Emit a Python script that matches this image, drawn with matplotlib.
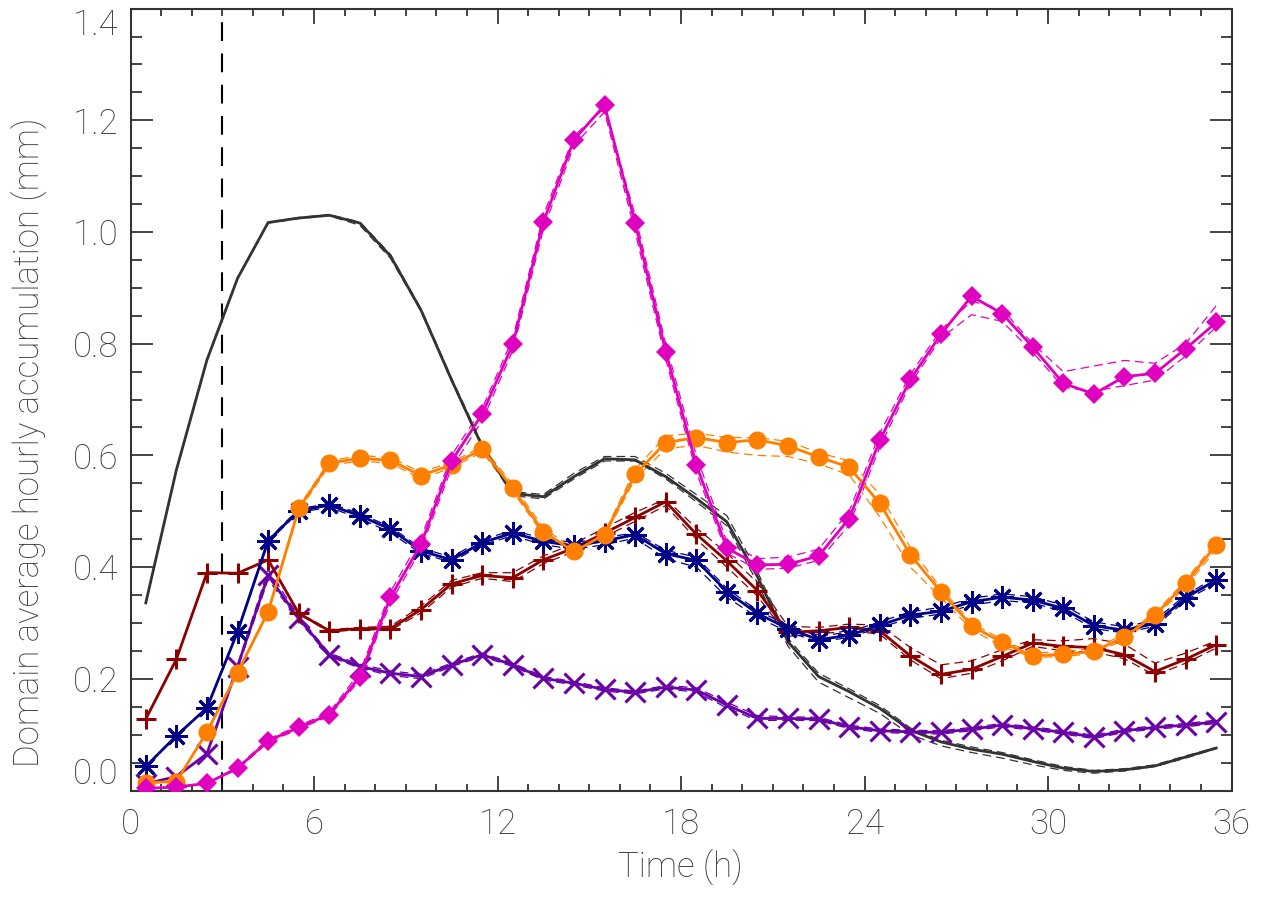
import matplotlib
matplotlib.use("Agg")
import matplotlib.pyplot as plt
import numpy as np

# ---------------- data ----------------
time_h = [0.5, 1.5, 2.5, 3.5, 4.5, 5.5, 6.5, 7.5, 8.5, 9.5, 10.5, 11.5,
          12.5, 13.5, 14.5, 15.5, 16.5, 17.5, 18.5, 19.5, 20.5, 21.5, 22.5, 23.5,
          24.5, 25.5, 26.5, 27.5, 28.5, 29.5, 30.5, 31.5, 32.5, 33.5, 34.5, 35.5]

black_main = [0.336, 0.574, 0.771, 0.917, 1.017, 1.025, 1.030, 1.016, 0.957, 0.860, 0.735, 0.616,
              0.532, 0.526, 0.562, 0.594, 0.592, 0.562, 0.523, 0.481, 0.383, 0.266, 0.204, 0.177,
              0.147, 0.108, 0.087, 0.074, 0.065, 0.052, 0.040, 0.034, 0.037, 0.044, 0.060, 0.076]
black_m1 = [0.336, 0.574, 0.771, 0.917, 1.016, 1.024, 1.029, 1.012, 0.953, 0.858, 0.733, 0.614,
            0.528, 0.522, 0.558, 0.590, 0.590, 0.558, 0.517, 0.474, 0.372, 0.258, 0.194, 0.166,
            0.138, 0.100, 0.080, 0.068, 0.058, 0.046, 0.036, 0.031, 0.035, 0.043, 0.058, 0.075]
black_m2 = [0.336, 0.574, 0.771, 0.917, 1.017, 1.026, 1.031, 1.018, 0.960, 0.862, 0.738, 0.620,
            0.535, 0.530, 0.568, 0.598, 0.598, 0.568, 0.530, 0.492, 0.392, 0.272, 0.210, 0.182,
            0.152, 0.112, 0.090, 0.078, 0.068, 0.055, 0.043, 0.036, 0.039, 0.046, 0.062, 0.077]

magenta_main = [0.004, 0.006, 0.013, 0.040, 0.089, 0.113, 0.136, 0.204, 0.346, 0.441, 0.590, 0.674,
                0.799, 1.018, 1.165, 1.227, 1.016, 0.786, 0.583, 0.434, 0.404, 0.405, 0.420, 0.487,
                0.627, 0.736, 0.817, 0.885, 0.854, 0.794, 0.729, 0.710, 0.741, 0.747, 0.791, 0.838]
magenta_m1 = [0.004, 0.006, 0.013, 0.042, 0.092, 0.116, 0.140, 0.212, 0.356, 0.452, 0.600, 0.684,
              0.810, 1.030, 1.172, 1.222, 1.030, 0.800, 0.600, 0.445, 0.415, 0.418, 0.432, 0.500,
              0.640, 0.745, 0.825, 0.876, 0.862, 0.800, 0.750, 0.760, 0.770, 0.765, 0.800, 0.868]
magenta_m2 = [0.004, 0.006, 0.013, 0.038, 0.086, 0.110, 0.133, 0.198, 0.336, 0.432, 0.578, 0.662,
              0.788, 1.005, 1.155, 1.215, 1.000, 0.772, 0.570, 0.425, 0.396, 0.398, 0.412, 0.475,
              0.615, 0.728, 0.810, 0.852, 0.840, 0.785, 0.722, 0.715, 0.725, 0.735, 0.778, 0.830]

orange_main = [0.014, 0.016, 0.105, 0.211, 0.320, 0.505, 0.586, 0.595, 0.591, 0.564, 0.583, 0.611,
               0.541, 0.463, 0.428, 0.458, 0.566, 0.623, 0.632, 0.623, 0.628, 0.617, 0.597, 0.579,
               0.514, 0.422, 0.356, 0.295, 0.265, 0.241, 0.244, 0.249, 0.275, 0.314, 0.371, 0.440]
orange_m1 = [0.014, 0.016, 0.105, 0.211, 0.318, 0.500, 0.582, 0.590, 0.586, 0.558, 0.578, 0.606,
             0.535, 0.458, 0.425, 0.455, 0.558, 0.612, 0.618, 0.606, 0.600, 0.598, 0.585, 0.565,
             0.490, 0.400, 0.345, 0.288, 0.258, 0.238, 0.240, 0.245, 0.270, 0.310, 0.365, 0.432]
orange_m2 = [0.014, 0.016, 0.105, 0.211, 0.322, 0.508, 0.590, 0.600, 0.596, 0.570, 0.588, 0.616,
             0.548, 0.470, 0.432, 0.462, 0.575, 0.635, 0.640, 0.632, 0.632, 0.625, 0.605, 0.590,
             0.530, 0.435, 0.362, 0.300, 0.270, 0.246, 0.249, 0.254, 0.280, 0.318, 0.376, 0.446]

navy_main = [0.043, 0.098, 0.148, 0.284, 0.447, 0.501, 0.511, 0.492, 0.468, 0.429, 0.413, 0.444,
             0.461, 0.446, 0.438, 0.447, 0.458, 0.424, 0.412, 0.356, 0.317, 0.290, 0.270, 0.278,
             0.296, 0.314, 0.321, 0.338, 0.346, 0.341, 0.326, 0.295, 0.287, 0.299, 0.345, 0.377]
navy_m1 = [0.043, 0.098, 0.148, 0.284, 0.445, 0.498, 0.507, 0.487, 0.462, 0.424, 0.409, 0.440,
           0.456, 0.440, 0.432, 0.440, 0.452, 0.415, 0.400, 0.346, 0.310, 0.284, 0.266, 0.274,
           0.292, 0.308, 0.316, 0.332, 0.340, 0.336, 0.320, 0.290, 0.282, 0.294, 0.340, 0.372]
navy_m2 = [0.043, 0.098, 0.148, 0.284, 0.449, 0.504, 0.514, 0.496, 0.472, 0.434, 0.418, 0.449,
           0.466, 0.451, 0.444, 0.452, 0.462, 0.430, 0.418, 0.362, 0.322, 0.296, 0.276, 0.284,
           0.302, 0.320, 0.328, 0.344, 0.352, 0.347, 0.332, 0.302, 0.293, 0.305, 0.350, 0.382]

red_main = [0.128, 0.235, 0.390, 0.389, 0.413, 0.317, 0.286, 0.290, 0.290, 0.324, 0.370, 0.385,
            0.381, 0.413, 0.434, 0.461, 0.489, 0.517, 0.459, 0.411, 0.358, 0.283, 0.286, 0.292,
            0.286, 0.241, 0.208, 0.217, 0.240, 0.264, 0.258, 0.256, 0.243, 0.213, 0.235, 0.261]
red_m1 = [0.128, 0.235, 0.390, 0.389, 0.413, 0.318, 0.288, 0.292, 0.294, 0.330, 0.376, 0.390,
          0.390, 0.420, 0.442, 0.470, 0.498, 0.522, 0.470, 0.425, 0.372, 0.294, 0.292, 0.298,
          0.296, 0.256, 0.225, 0.232, 0.252, 0.270, 0.268, 0.272, 0.262, 0.228, 0.246, 0.268]
red_m2 = [0.128, 0.235, 0.390, 0.389, 0.413, 0.316, 0.284, 0.288, 0.287, 0.318, 0.364, 0.380,
          0.374, 0.406, 0.428, 0.454, 0.482, 0.510, 0.450, 0.400, 0.348, 0.276, 0.280, 0.286,
          0.280, 0.234, 0.200, 0.210, 0.232, 0.258, 0.250, 0.248, 0.236, 0.206, 0.228, 0.255]

purple_main = [0.012, 0.025, 0.066, 0.222, 0.385, 0.308, 0.243, 0.222, 0.210, 0.204, 0.225, 0.243,
               0.225, 0.201, 0.192, 0.181, 0.176, 0.185, 0.180, 0.153, 0.129, 0.129, 0.128, 0.114,
               0.107, 0.105, 0.104, 0.110, 0.117, 0.111, 0.104, 0.096, 0.107, 0.113, 0.117, 0.123]
purple_m1 = [0.012, 0.025, 0.066, 0.225, 0.395, 0.312, 0.246, 0.226, 0.214, 0.208, 0.228, 0.246,
             0.228, 0.204, 0.195, 0.184, 0.178, 0.188, 0.184, 0.158, 0.134, 0.132, 0.131, 0.117,
             0.110, 0.108, 0.107, 0.113, 0.120, 0.114, 0.107, 0.099, 0.110, 0.116, 0.120, 0.126]
purple_m2 = [0.012, 0.025, 0.066, 0.218, 0.378, 0.304, 0.240, 0.219, 0.206, 0.200, 0.222, 0.240,
             0.222, 0.198, 0.189, 0.178, 0.173, 0.182, 0.176, 0.148, 0.125, 0.126, 0.125, 0.111,
             0.104, 0.102, 0.101, 0.107, 0.114, 0.108, 0.101, 0.093, 0.104, 0.110, 0.114, 0.120]

x_ticks = [0, 6, 12, 18, 24, 30, 36]
y_ticks = [0.0, 0.2, 0.4, 0.6, 0.8, 1.0, 1.2, 1.4]
x_label = "Time (h)"
y_label = "Domain average hourly accumulation (mm)"
spinup_time = 3

# ---------------- style ----------------
plt.rcParams['font.family'] = ['Roboto', 'DejaVu Sans']
plt.rcParams['font.weight'] = 'light'
text_color = '#3a3a3a'

fig = plt.figure(figsize=(12.63, 8.97), dpi=100)
ax = fig.add_axes([130.5 / 1263, 1 - 790.5 / 897, 1101 / 1263, (790.5 - 8.6) / 897])

series = [
    (black_main, [black_m1, black_m2], '#333333', None, 0, 0),
    (purple_main, [purple_m1, purple_m2], '#6A00A8', 'x', 15, 2.2),
    (red_main, [red_m1, red_m2], '#8C0000', '+', 15, 2.2),
    (navy_main, [navy_m1, navy_m2], '#000088', (8, 2, 0), 16, 2.0),
    (orange_main, [orange_m1, orange_m2], '#FF8000', 'o', 13, 0),
    (magenta_main, [magenta_m1, magenta_m2], '#E000C0', 'D', 10, 0),
]

for main, members, col, mk, ms, mew in series:
    for mem in members:
        ax.plot(time_h, mem, color=col, lw=0.9, ls=(0, (7, 4)), zorder=2)
    if mk is None:
        ax.plot(time_h, main, color=col, lw=2.0, zorder=3)
    else:
        ax.plot(time_h, main, color=col, lw=2.0, marker=mk, ms=ms,
                mew=mew, mec=col, mfc=col, zorder=3)

ax.axvline(spinup_time, color='black', lw=1.5, ls=(0, (9, 6)), zorder=1)

ax.set_xlim(0, 36)
ax.set_ylim(0, 1.4)
ax.set_xticks(x_ticks)
ax.set_yticks(y_ticks)
ax.set_xticklabels([str(v) for v in x_ticks])
ax.set_yticklabels([f"{v:.1f}" for v in y_ticks])
ax.set_xticks(np.arange(0, 37, 1), minor=True)
ax.set_yticks(np.arange(0, 1.4001, 0.05), minor=True)

ax.tick_params(axis='both', which='both', direction='in', top=True, right=True,
               colors='#222222', labelcolor=text_color, labelsize=25, width=1.2)
ax.tick_params(axis='x', which='major', length=11, pad=12)
ax.tick_params(axis='x', which='minor', length=5)
ax.tick_params(axis='y', which='major', length=16, pad=9)
ax.tick_params(axis='y', which='minor', length=8)
ylabels = ax.get_yticklabels()
ylabels[0].set_verticalalignment('bottom')
ylabels[-1].set_verticalalignment('top')
for sp in ax.spines.values():
    sp.set_linewidth(1.5)
    sp.set_color('#333333')

fig.text(680 / 1263, 1 - 868 / 897, x_label, ha='center', va='center',
         fontsize=25, color=text_color)
fig.text(30 / 1263, 1 - 442 / 897, y_label, ha='center', va='center',
         rotation=90, fontsize=25, color=text_color)

fig.savefig('out.png', dpi=100)
